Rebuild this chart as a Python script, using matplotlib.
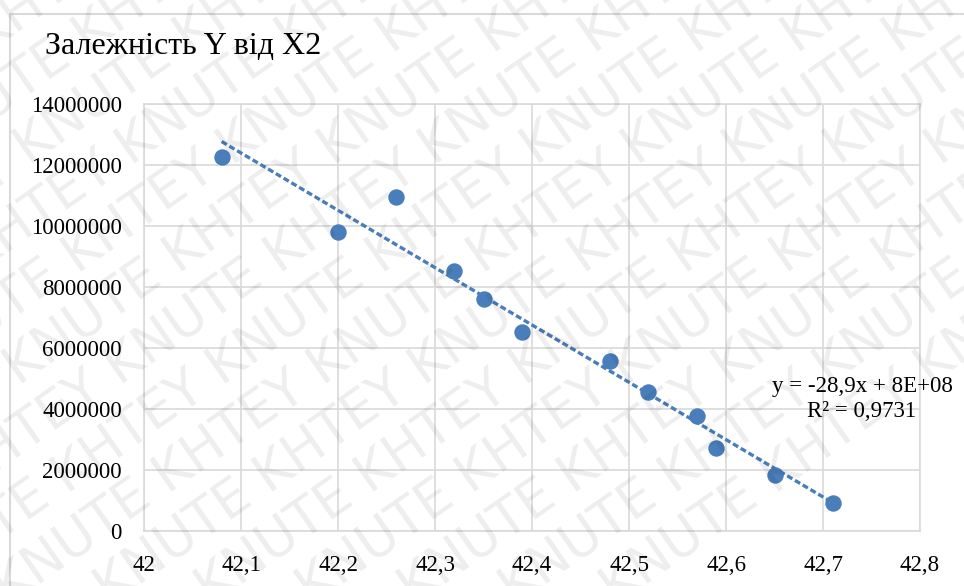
import numpy as np
import matplotlib as mpl
import matplotlib.pyplot as plt
from matplotlib.patches import Rectangle
from matplotlib.ticker import FuncFormatter, MultipleLocator

# data
x2 = [42.08, 42.20, 42.26, 42.32, 42.35, 42.39, 42.48, 42.52, 42.57, 42.59, 42.65, 42.71]
y = [12260000, 9800000, 10950000, 8520000, 7610000, 6520000, 5570000, 4560000, 3770000, 2720000, 1840000, 920000]
title = "Залежність Y від X2"
eq_text = "y = -28,9x + 8E+08\nR² = 0,9731"

blue = '#4a7ebb'
grid_c = '#d9d9d9'

plt.rcParams['font.family'] = ['Liberation Serif', 'DejaVu Serif']

fig = plt.figure(figsize=(9.64, 5.86), dpi=100)
ax = fig.add_axes([0.1494, 0.0939, 0.8050, 0.7286])

ax.scatter(x2, y, s=140, color=blue, zorder=3, linewidths=0)

# linear trendline over the data range
k, b = np.polyfit(x2, y, 1)
xt = np.array([min(x2), max(x2)])
ax.plot(xt, k * xt + b, color=blue, lw=2.4, ls=(0, (1.8, 0.9)), zorder=2)

ax.set_xlim(42, 42.8)
ax.set_ylim(0, 14000000)
ax.xaxis.set_major_locator(MultipleLocator(0.1))
ax.yaxis.set_major_locator(MultipleLocator(2000000))
ax.xaxis.set_major_formatter(FuncFormatter(lambda v, p: ('%g' % round(v, 1)).replace('.', ',')))
ax.yaxis.set_major_formatter(FuncFormatter(lambda v, p: '%d' % v))
ax.tick_params(length=0, labelsize=16.5)
ax.tick_params(axis='y', pad=16)
ax.tick_params(axis='x', pad=17)
ax.grid(True, color=grid_c, lw=1.2)
ax.set_axisbelow(True)
for s in ax.spines.values():
    s.set_color(grid_c)
    s.set_linewidth(1.2)

fig.text(862 / 964, 1 - 399 / 586, eq_text, ha='center', va='center',
         fontsize=16.5, linespacing=1.3)

fig.text(45 / 964, 1 - 47 / 586, title, fontsize=23, ha='left', va='center')

# chart border
fig.patches.append(Rectangle((10 / 964, -0.1), 1.2, 1 - 13.5 / 586 + 0.1, transform=fig.transFigure,
                             fill=False, ec=grid_c, lw=1.5))

# watermark
line = "KNUTE KHTEY " * 6
for i in range(-8, 10):
    x0 = -0.3 + i * 0.105
    fig.text(x0, -0.05, line, rotation=35, rotation_mode='anchor', fontsize=38,
             family='DejaVu Sans', color='#000000', alpha=0.07, ha='left', va='bottom', zorder=10)

fig.savefig('out.png', dpi=100)
